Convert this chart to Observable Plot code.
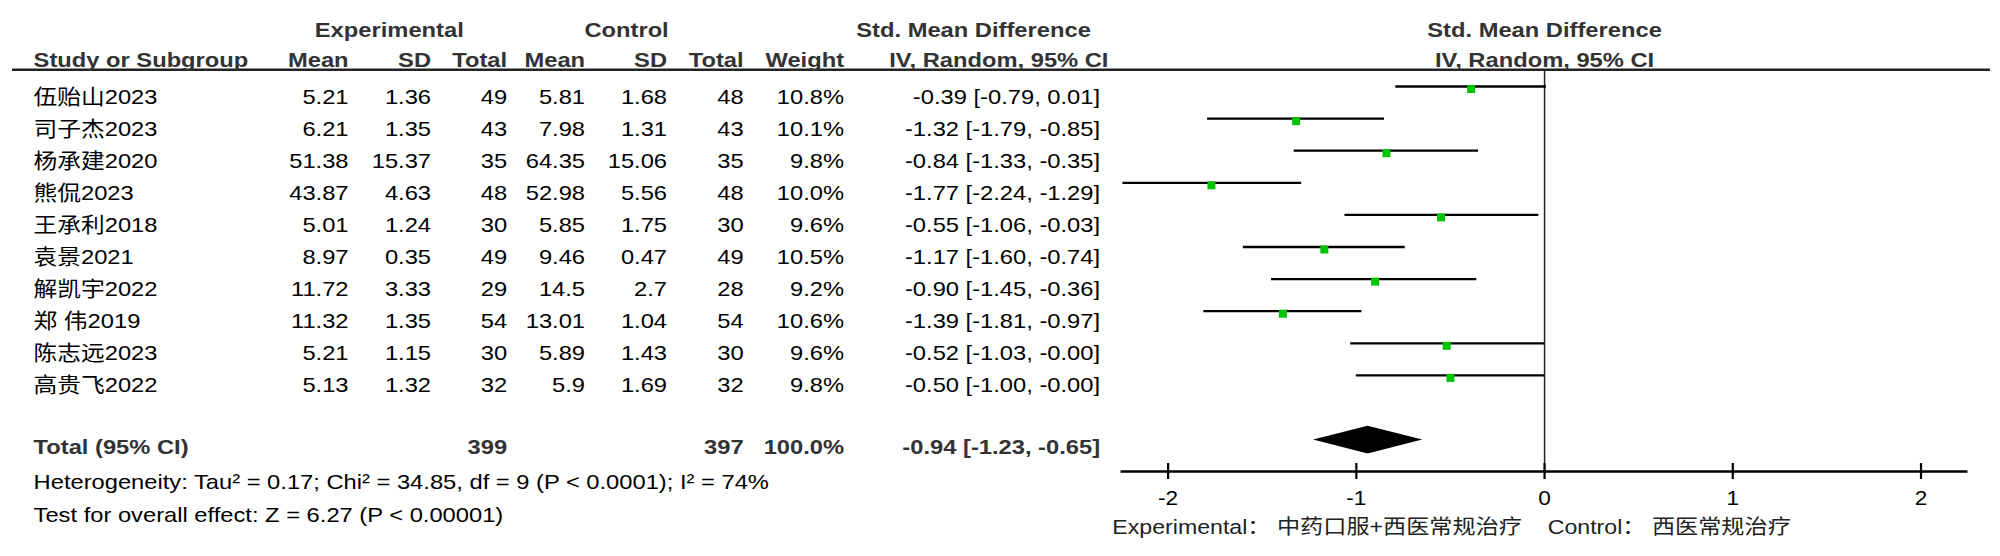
<!DOCTYPE html>
<html>
<head>
<meta charset="utf-8">
<script src="https://cdn.jsdelivr.net/npm/d3@7"></script>
<script src="https://cdn.jsdelivr.net/npm/@observablehq/plot@0.6"></script>
<style>
  html, body { margin: 0; padding: 0; background: #fff; }
  #chart { width: 2000px; height: 556px; overflow: hidden; }
  #chart svg text { white-space: pre; }
</style>
</head>
<body>
<div id="chart"></div>
<script>
// ---------- data ----------
const studies   = ["伍贻山2023", "司子杰2023", "杨承建2020", "熊侃2023", "王承利2018", "袁景2021", "解凯宇2022", "郑 伟2019", "陈志远2023", "高贵飞2022"];
const expMean   = [5.21, 6.21, 51.38, 43.87, 5.01, 8.97, 11.72, 11.32, 5.21, 5.13];
const expSD     = [1.36, 1.35, 15.37, 4.63, 1.24, 0.35, 3.33, 1.35, 1.15, 1.32];
const expN      = [49, 43, 35, 48, 30, 49, 29, 54, 30, 32];
const ctrlMean  = [5.81, 7.98, 64.35, 52.98, 5.85, 9.46, 14.5, 13.01, 5.89, 5.9];
const ctrlSD    = [1.68, 1.31, 15.06, 5.56, 1.75, 0.47, 2.7, 1.04, 1.43, 1.69];
const ctrlN     = [48, 43, 35, 48, 30, 49, 28, 54, 30, 32];
const weights   = [10.8, 10.1, 9.8, 10.0, 9.6, 10.5, 9.2, 10.6, 9.6, 9.8];
const smd       = [-0.39, -1.32, -0.84, -1.77, -0.55, -1.17, -0.90, -1.39, -0.52, -0.50];
const ciLow     = [-0.79, -1.79, -1.33, -2.24, -1.06, -1.60, -1.45, -1.81, -1.03, -1.00];
const ciHigh    = [0.01, -0.85, -0.35, -1.29, -0.03, -0.74, -0.36, -0.97, -0.00, -0.00];
const totalExpN = 399;
const totalCtrlN = 397;
const totalWeight = 100.0;
const pooledEst = -0.94, pooledLow = -1.23, pooledHigh = -0.65;
const heterogeneityText = "Heterogeneity: Tau² = 0.17; Chi² = 34.85, df = 9 (P < 0.0001); I² = 74%";
const overallText = "Test for overall effect: Z = 6.27 (P < 0.00001)";
const xTicks = [-2, -1, 0, 1, 2];
const xDomain = [-2.25, 2.25];
const footLabel = "Experimental： 中药口服+西医常规治疗    Control： 西医常规治疗";

// ---------- layout ----------
const SX = 1.13;                 // horizontal stretch of the picture
const H = 556, W = 2000 / SX;
const ox = v => v / SX;          // picture px -> plot px (horizontal)
const ML = ox(12), MR = ox(10);
const ROW0 = 86, ROWH = 32.1;    // y of first CI line and row pitch
const rowOf = yPx => (yPx - ROW0) / ROWH;
const FS = 21;
const baseDy = fs => -0.32 * fs; // put text baseline on y
const ROW_DY = 17 + baseDy(FS);
const FONT = '"Liberation Sans", Arial, "Noto Sans CJK SC", sans-serif';
const HEAD = "#333";

const fmt2 = v => (v < 0 || Object.is(v, -0) ? "-" : "") + Math.abs(v).toFixed(2);
const ciStr = (e, l, h) => `${fmt2(e)} [${fmt2(l)}, ${fmt2(h)}]`;

const rows = studies.map((name, i) => ({
  i, name,
  eMean: String(expMean[i]), eSD: String(expSD[i]), eN: String(expN[i]),
  cMean: String(ctrlMean[i]), cSD: String(ctrlSD[i]), cN: String(ctrlN[i]),
  w: weights[i].toFixed(1) + "%",
  est: smd[i], lo: ciLow[i], hi: ciHigh[i],
  ci: ciStr(smd[i], ciLow[i], ciHigh[i])
}));
const totalRow = 11;

const colX = {name: 33, eMean: 348, eSD: 430.5, eN: 506.5, cMean: 584.5, cSD: 666.5, cN: 743, w: 843.5, ci: 1099.5};

function leftText(data, xOrig, opts) {
  return Plot.text(data, {frameAnchor: "left", dx: ox(xOrig) - ML, fontSize: FS, ...opts});
}
function colText(key, anchor) {
  return leftText(rows, colX[key], {y: "i", text: key, textAnchor: anchor, dy: ROW_DY, fill: "#000"});
}
function header(label, xOrig, baseline, anchor) {
  return leftText([label], xOrig, {y: rowOf(baseline), dy: baseDy(FS), textAnchor: anchor, fontWeight: "bold", fill: HEAD});
}
const H1 = 36, H2 = 66.7;
const totalBase = 453;

const diamondH = 13.8 / ROWH;
const diamond = [
  {x: pooledLow, y: totalRow}, {x: pooledEst, y: totalRow - diamondH},
  {x: pooledHigh, y: totalRow}, {x: pooledEst, y: totalRow + diamondH},
  {x: pooledLow, y: totalRow}
];

const rectSymbol = {draw(ctx) { const w = 8 / SX, h = 8; ctx.rect(-w / 2, -h / 2, w, h); }};

const svg = Plot.plot({
  width: W, height: H,
  marginLeft: ML, marginRight: MR, marginTop: 69.5, marginBottom: H - 471,
  style: {fontFamily: FONT, fontSize: FS + "px", background: "#fff", color: "#000"},
  x: {domain: xDomain, range: [ox(1120.5), ox(1967.5)]},
  y: {domain: [0, totalRow], range: [ROW0, ROW0 + totalRow * ROWH], axis: null},
  marks: [
    // header underline
    Plot.ruleY([-0.52], {stroke: "#222", strokeWidth: 2.6}),
    // headers (table)
    header("Experimental", 388.7, H1, "middle"),
    header("Control", 626, H1, "middle"),
    header("Std. Mean Difference", 973, H1, "middle"),
    header("Study or Subgroup", colX.name, H2, "start"),
    header("Mean", colX.eMean, H2, "end"),
    header("SD", colX.eSD, H2, "end"),
    header("Total", colX.eN, H2, "end"),
    header("Mean", colX.cMean, H2, "end"),
    header("SD", colX.cSD, H2, "end"),
    header("Total", colX.cN, H2, "end"),
    header("Weight", colX.w, H2, "end"),
    header("IV, Random, 95% CI", 998.3, H2, "middle"),
    // headers (plot)
    Plot.text(["Std. Mean Difference"], {x: 0, y: rowOf(H1), dy: baseDy(FS), textAnchor: "middle", fontWeight: "bold", fill: HEAD}),
    Plot.text(["IV, Random, 95% CI"], {x: 0, y: rowOf(H2), dy: baseDy(FS), textAnchor: "middle", fontWeight: "bold", fill: HEAD}),
    // study rows
    colText("name", "start"),
    colText("eMean", "end"),
    colText("eSD", "end"),
    colText("eN", "end"),
    colText("cMean", "end"),
    colText("cSD", "end"),
    colText("cN", "end"),
    colText("w", "end"),
    colText("ci", "end"),
    // total row
    leftText(["Total (95% CI)"], colX.name, {y: rowOf(totalBase), dy: baseDy(FS), textAnchor: "start", fontWeight: "bold", fill: HEAD}),
    leftText([String(totalExpN)], colX.eN, {y: rowOf(totalBase), dy: baseDy(FS), textAnchor: "end", fontWeight: "bold", fill: HEAD}),
    leftText([String(totalCtrlN)], colX.cN, {y: rowOf(totalBase), dy: baseDy(FS), textAnchor: "end", fontWeight: "bold", fill: HEAD}),
    leftText([totalWeight.toFixed(1) + "%"], colX.w, {y: rowOf(totalBase), dy: baseDy(FS), textAnchor: "end", fontWeight: "bold", fill: HEAD}),
    leftText([ciStr(pooledEst, pooledLow, pooledHigh)], colX.ci, {y: rowOf(totalBase), dy: baseDy(FS), textAnchor: "end", fontWeight: "bold", fill: HEAD}),
    // footnotes
    leftText([heterogeneityText], colX.name, {y: rowOf(488.5), dy: baseDy(FS), textAnchor: "start", fill: "#000"}),
    leftText([overallText], colX.name, {y: rowOf(521.5), dy: baseDy(FS), textAnchor: "start", fill: "#000"}),
    // forest plot
    Plot.ruleX([0], {stroke: "#222", strokeWidth: 1.5 / SX}),
    Plot.ruleY(rows, {y: "i", x1: "lo", x2: "hi", stroke: "#000", strokeWidth: 2.3}),
    Plot.dot(rows, {x: "est", y: "i", symbol: rectSymbol, fill: "#00c400", stroke: "none", dy: 2.5}),
    Plot.line(diamond, {x: "x", y: "y", fill: "#000", stroke: "none"}),
    // axis
    Plot.ruleY([rowOf(471)], {x1: xDomain[0], x2: xDomain[1], stroke: "#000", strokeWidth: 2.6}),
    Plot.ruleX(xTicks, {x: d => d, y1: rowOf(463), y2: rowOf(479), stroke: "#000", strokeWidth: 2.2 / SX}),
    Plot.axisX({ticks: xTicks, tickSize: 0, tickPadding: (504 - 0.71 * 20) - 471, tickFormat: d => String(d), fontSize: 20, fill: "#000", anchor: "bottom"}),
    leftText([footLabel], 1111.7, {y: rowOf(533), dy: baseDy(20.5), fontSize: 20.5, textAnchor: "start", fill: "#222"})
  ]
});

svg.setAttribute("width", 2000);
svg.setAttribute("height", H);
svg.setAttribute("viewBox", `0 0 ${W} ${H}`);
svg.setAttribute("preserveAspectRatio", "none");
svg.style.width = "2000px";
svg.style.height = H + "px";
svg.style.maxWidth = "none";
document.getElementById("chart").appendChild(svg);
</script>
</body>
</html>
